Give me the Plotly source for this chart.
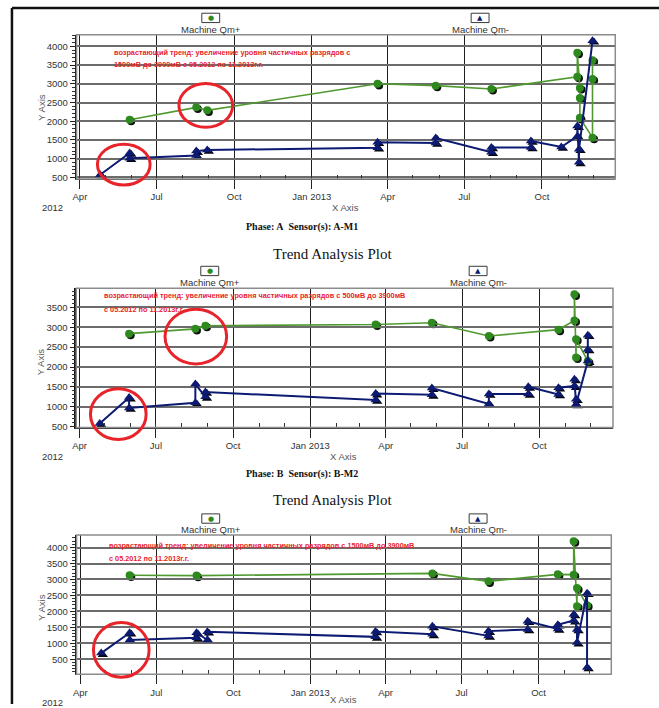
import plotly.graph_objects as go

W, H = 659, 708

# ---------------- data ----------------
quarter_ticks = ["2012-04-01", "2012-07-01", "2012-10-01", "2013-01-01",
                 "2013-04-01", "2013-07-01", "2013-10-01"]
quarter_labels = ["Apr", "Jul", "Oct", "Jan 2013", "Apr", "Jul", "Oct"]
y_tick_vals = [500, 1000, 1500, 2000, 2500, 3000, 3500, 4000]
series_names = ["Machine Qm+", "Machine Qm-"]

a_plus_dates = ["2012-05-30", "2012-08-17", "2012-08-30", "2013-03-20", "2013-05-28",
                "2013-08-02", "2013-11-12", "2013-11-12", "2013-11-15", "2013-11-15",
                "2013-11-15", "2013-11-30", "2013-11-30", "2013-11-30"]
a_plus_vals = [2040, 2370, 2290, 3000, 2950, 2860, 3190, 3830, 2890, 2620, 2090, 1560, 3130, 3630]

a_minus_dates = ["2012-04-25", "2012-05-30", "2012-05-30", "2012-08-17", "2012-08-17",
                 "2012-08-30", "2013-03-20", "2013-03-20", "2013-05-28", "2013-05-28",
                 "2013-08-02", "2013-08-02", "2013-09-18", "2013-09-18", "2013-10-24",
                 "2013-11-12", "2013-11-12", "2013-11-14", "2013-11-14", "2013-11-30"]
a_minus_vals = [570, 1150, 1010, 1080, 1200, 1230, 1290, 1440, 1420, 1550, 1170, 1300,
                1300, 1470, 1310, 1600, 1870, 900, 1250, 4150]

b_plus_dates = ["2012-05-30", "2012-08-17", "2012-08-29", "2013-03-20", "2013-05-26",
                "2013-08-02", "2013-10-24", "2013-11-12", "2013-11-12", "2013-11-14",
                "2013-11-14", "2013-11-28"]
b_plus_vals = [2840, 2960, 3040, 3070, 3115, 2780, 2940, 3170, 3830, 2240, 2700, 2150]

b_minus_dates = ["2012-04-25", "2012-05-30", "2012-05-30", "2012-08-17", "2012-08-17",
                 "2012-08-29", "2012-08-29", "2013-03-20", "2013-03-20", "2013-05-26",
                 "2013-05-26", "2013-08-02", "2013-08-02", "2013-09-18", "2013-09-18",
                 "2013-10-24", "2013-10-24", "2013-11-12", "2013-11-12", "2013-11-14",
                 "2013-11-14", "2013-11-28", "2013-11-28", "2013-11-28"]
b_minus_vals = [580, 1230, 970, 1100, 1570, 1250, 1370, 1170, 1330, 1300, 1470, 1070,
                1320, 1320, 1500, 1310, 1480, 1520, 1690, 1190, 1060, 2150, 2440, 2800]

c_plus_dates = ["2012-05-30", "2012-08-18", "2013-05-27", "2013-08-02", "2013-10-24",
                "2013-11-12", "2013-11-12", "2013-11-16", "2013-11-16", "2013-11-28"]
c_plus_vals = [3130, 3120, 3190, 2940, 3160, 3150, 4200, 2160, 2730, 2190]

c_minus_dates = ["2012-04-26", "2012-05-30", "2012-05-30", "2012-08-18", "2012-08-18",
                 "2012-08-31", "2012-08-31", "2013-03-20", "2013-03-20", "2013-05-27",
                 "2013-05-27", "2013-08-02", "2013-08-02", "2013-09-18", "2013-09-18",
                 "2013-10-24", "2013-10-24", "2013-11-12", "2013-11-12", "2013-11-16",
                 "2013-11-16", "2013-11-28", "2013-11-28"]
c_minus_vals = [690, 1330, 1100, 1170, 1330, 1100, 1360, 1200, 1370, 1280, 1530, 1230,
                1380, 1430, 1690, 1450, 1580, 1710, 1900, 1430, 1020, 2570, 240]

plot_titles = ["", "Trend Analysis Plot", "Trend Analysis Plot"]
phase_labels = ["Phase: A  Sensor(s): A-M1", "Phase: B  Sensor(s): B-M2"]
note_line1 = ["возрастающий тренд: увеличение уровня частичных разрядов с",
              "возрастающий тренд: увеличение уровня частичных разрядов с 500мВ до 3900мВ",
              "возрастающий тренд: увеличение уровня частичных разрядов с 1500мВ до 3900мВ"]
note_line2 = ["1500мВ до 3900мВ с 05.2012 по 11.2013г.г.",
              "с 05.2012 по 11.2013г.г.",
              "с 05.2012 по 11.2013г.г."]

# ---------------- styling / layout ----------------
GREEN_LINE = "#4f9a2f"
GREEN_MK = "#2e8a1e"
NAVY = "#0c1a72"
RED = "#e8242a"
SANS = "Liberation Sans, Arial, sans-serif"
SERIF = "Liberation Serif, Times New Roman, serif"

def px(x):
    return x / W

def py(y):
    return 1 - y / H

panels = [
    dict(x0=73, x1=615, y0=35, y1=180, xr=["2012-03-28", "2013-12-27"], yr=[455, 4310],
         plus=(a_plus_dates, a_plus_vals), minus=(a_minus_dates, a_minus_vals),
         leg_plus=208, leg_minus=479, leg_box_y=18, leg_text_y=29.5,
         note_x=109, note_y1=52.5, note_y2=64.5, yaxis_title_y=108, xaxis_title=(344, 209),
         year_y=209, title_y=None, phase_y=228,
         circles=[(94, 145, 147, 186), (176, 84, 230, 128)]),
    dict(x0=72.7, x1=612.7, y0=290, y1=430, xr=["2012-03-28", "2013-12-28"], yr=[475, 3980],
         plus=(b_plus_dates, b_plus_vals), minus=(b_minus_dates, b_minus_vals),
         leg_plus=207, leg_minus=477, leg_box_y=272.5, leg_text_y=284,
         note_x=99, note_y1=297.5, note_y2=311, yaxis_title_y=364, xaxis_title=(342, 459),
         year_y=459, title_y=255, phase_y=477,
         circles=[(87, 391, 143, 442), (162, 311, 224, 366)]),
    dict(x0=73, x1=611, y0=538, y1=678, xr=["2012-03-27 12:00", "2013-12-27"], yr=[30, 4395],
         plus=(c_plus_dates, c_plus_vals), minus=(c_minus_dates, c_minus_vals),
         leg_plus=208, leg_minus=477, leg_box_y=521.5, leg_text_y=533,
         note_x=104, note_y1=549, note_y2=562, yaxis_title_y=611, xaxis_title=(342, 703),
         year_y=706, title_y=503, phase_y=None,
         circles=[(90, 626, 146, 681)]),
]

fig = go.Figure()
layout = dict(width=W, height=H, autosize=False, margin=dict(l=0, r=0, t=0, b=0),
              paper_bgcolor="white", plot_bgcolor="rgba(0,0,0,0)", showlegend=False)
shapes = []
annotations = []

SDX, SDY = 1.6, 1.6  # marker drop shadow offset (px)
LBL = 9.5

for i, p in enumerate(panels):
    s = i + 1          # shadow subplot index
    m = i + 4          # main subplot index
    dom_x = [px(p["x0"]), px(p["x1"])]
    dom_y = [py(p["y1"]), py(p["y0"])]
    sdom_x = [px(p["x0"] + SDX), px(p["x1"] + SDX)]
    sdom_y = [py(p["y1"] + SDY), py(p["y0"] + SDY)]
    sx = "x" if s == 1 else f"x{s}"
    sy = "y" if s == 1 else f"y{s}"
    mx, my = f"x{m}", f"y{m}"
    layout["xaxis" if s == 1 else f"xaxis{s}"] = dict(domain=sdom_x, range=p["xr"], type="date",
                                                    visible=False, anchor=sy)
    layout["yaxis" if s == 1 else f"yaxis{s}"] = dict(domain=sdom_y, range=p["yr"], visible=False,
                                                    anchor=sx)
    layout[f"xaxis{m}"] = dict(
        domain=dom_x, range=p["xr"], type="date", anchor=my,
        tickmode="array", tickvals=quarter_ticks, ticktext=quarter_labels,
        ticks="outside", ticklen=9, tickwidth=1.2, tickcolor="#222",
        showgrid=True, gridcolor="#1e1e1e", gridwidth=1.4,
        showline=True, linecolor="#333", linewidth=1.2, mirror=False,
        zeroline=False,
        tickfont=dict(family=SANS, size=LBL, color="#333"),
        minor=dict(tickmode="linear", tick0="2012-01-01", dtick="M1", ticks="inside",
                   ticklen=4, tickcolor="#333", tickwidth=1, showgrid=False),
    )
    layout[f"yaxis{m}"] = dict(
        domain=dom_y, range=p["yr"], anchor=mx,
        tickmode="array", tickvals=y_tick_vals,
        ticks="outside", ticklen=5, tickwidth=1.2, tickcolor="#222",
        showgrid=True, gridcolor="#6c6c6c", gridwidth=1.5,
        showline=True, linecolor="#111", linewidth=1.5, mirror=False,
        zeroline=False,
        tickfont=dict(family=SANS, size=LBL, color="#333"),
        minor=dict(tickmode="linear", tick0=0, dtick=100, ticks="outside",
                   ticklen=3, tickcolor="#333", tickwidth=1, showgrid=False),
    )

    pdates, pvals = p["plus"]
    mdates, mvals = p["minus"]
    # shadows (drawn first, on the slightly offset subplot)
    fig.add_trace(go.Scatter(x=pdates, y=pvals, mode="markers", xaxis=sx, yaxis=sy,
                             marker=dict(symbol="circle", size=8, color="#101010"),
                             hoverinfo="skip"))
    fig.add_trace(go.Scatter(x=mdates, y=mvals, mode="markers", xaxis=sx, yaxis=sy,
                             marker=dict(symbol="triangle-up", size=9, color="#050510"),
                             hoverinfo="skip"))
    # main series
    fig.add_trace(go.Scatter(x=pdates, y=pvals, mode="lines+markers", name=series_names[0],
                             xaxis=mx, yaxis=my, line=dict(color=GREEN_LINE, width=1.6),
                             marker=dict(symbol="circle", size=8, color=GREEN_MK)))
    fig.add_trace(go.Scatter(x=mdates, y=mvals, mode="lines+markers", name=series_names[1],
                             xaxis=mx, yaxis=my, line=dict(color=NAVY, width=2),
                             marker=dict(symbol="triangle-up", size=9, color=NAVY)))

    # plot border
    shapes.append(dict(type="rect", xref="paper", yref="paper",
                       x0=px(p["x0"]), x1=px(p["x1"]), y0=py(p["y1"]), y1=py(p["y0"]),
                       line=dict(color="#8c8c8c", width=1.5), layer="above"))
    # legend boxes
    for cx, col, sym in [(p["leg_plus"], GREEN_MK, "●"), (p["leg_minus"], NAVY, "▲")]:
        shapes.append(dict(type="rect", xref="paper", yref="paper",
                           x0=px(cx - 9), x1=px(cx + 9),
                           y0=py(p["leg_box_y"] + 4.7), y1=py(p["leg_box_y"] - 4.7),
                           line=dict(color="#3a3a3a", width=1)))
        annotations.append(dict(text=sym, x=px(cx), y=py(p["leg_box_y"]), xref="paper",
                                yref="paper", showarrow=False, xanchor="center", yanchor="middle",
                                font=dict(family="DejaVu Sans", size=7, color=col)))
    for cx, name in [(p["leg_plus"], series_names[0]), (p["leg_minus"], series_names[1])]:
        annotations.append(dict(text=name, x=px(cx), y=py(p["leg_text_y"]), xref="paper",
                                yref="paper", showarrow=False, xanchor="center", yanchor="middle",
                                font=dict(family=SANS, size=LBL, color="#333")))
    # red notes
    for txt, yy in [(note_line1[i], p["note_y1"]), (note_line2[i], p["note_y2"])]:
        annotations.append(dict(text=f"<b>{txt}</b>", x=px(p["note_x"]), y=py(yy), xref="paper",
                                yref="paper", showarrow=False, xanchor="left", yanchor="middle",
                                font=dict(family=SANS, size=7.3, color=RED)))
    # axis titles and year
    annotations.append(dict(text="Y Axis", x=px(37.5), y=py(p["yaxis_title_y"]), xref="paper",
                            yref="paper", showarrow=False, textangle=-90, xanchor="center",
                            yanchor="middle", font=dict(family=SANS, size=LBL, color="#555")))
    annotations.append(dict(text="X Axis", x=px(p["xaxis_title"][0]), y=py(p["xaxis_title"][1]),
                            xref="paper", yref="paper", showarrow=False, xanchor="center",
                            yanchor="middle", font=dict(family=SANS, size=LBL, color="#555")))
    annotations.append(dict(text="2012", x=px(48.5), y=py(p["year_y"]), xref="paper",
                            yref="paper", showarrow=False, xanchor="center", yanchor="middle",
                            font=dict(family=SANS, size=LBL, color="#333")))
    if p["title_y"] is not None:
        annotations.append(dict(text=plot_titles[i], x=px(331), y=py(p["title_y"]), xref="paper",
                                yref="paper", showarrow=False, xanchor="center", yanchor="middle",
                                font=dict(family=SERIF, size=15, color="#111")))
    if p["phase_y"] is not None:
        annotations.append(dict(text="<b>" + phase_labels[i].replace("  ", "&nbsp;&nbsp;") + "</b>",
                                x=px(300), y=py(p["phase_y"]), xref="paper", yref="paper",
                                showarrow=False, xanchor="center", yanchor="middle",
                                font=dict(family=SERIF, size=10, color="#111")))
    # hand-drawn red circles
    for (cx0, cy0, cx1, cy1) in p["circles"]:
        shapes.append(dict(type="circle", xref="paper", yref="paper",
                           x0=px(cx0), x1=px(cx1), y0=py(cy1), y1=py(cy0),
                           line=dict(color=RED, width=3), layer="above"))

# page frame
shapes.append(dict(type="line", xref="paper", yref="paper", x0=px(8), x1=px(659),
                   y0=py(8), y1=py(8), line=dict(color="#111", width=2.5)))
shapes.append(dict(type="line", xref="paper", yref="paper", x0=px(8), x1=px(8),
                   y0=py(8), y1=py(708), line=dict(color="#111", width=2.5)))

layout["shapes"] = shapes
layout["annotations"] = annotations
fig.update_layout(**layout)
fig.write_html("out.html")
